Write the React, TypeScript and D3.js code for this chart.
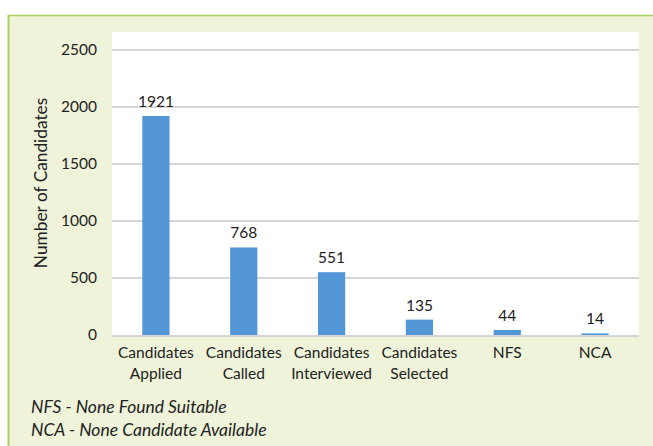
import React from 'react'
import * as d3 from 'd3'

const categories = [
  ['Candidates', 'Applied'],
  ['Candidates', 'Called'],
  ['Candidates', 'Interviewed'],
  ['Candidates', 'Selected'],
  ['NFS'],
  ['NCA'],
]
const values = [1921, 768, 551, 135, 44, 14]
const yTicks = [0, 500, 1000, 1500, 2000, 2500]
const notes = ['NFS - None Found Suitable', 'NCA - None Candidate Available']

const W = 653, H = 446
const plot = {left: 112, right: 639, top: 32, bottom: 336}
const font = 'Lato, "Open Sans", sans-serif'

export default function App() {
  const keys = categories.map((c, i) => String(i))
  const x = d3.scaleBand().domain(keys).range([plot.left, plot.right]).paddingInner(0.69).paddingOuter(0.345)
  const y = d3.scaleLinear().domain([0, 2500]).range([plot.bottom - 1, 50])

  return (
    <svg width={W} height={H} style={{position: 'absolute', left: 0, top: 0}}>
      <rect x={0} y={0} width={W} height={H} fill="#fff" />
      <rect x={8} y={15} width={W} height={H} fill="#eef3da" />
      <line x1={8} x2={W} y1={15.5} y2={15.5} stroke="#a9cf5a" strokeWidth={1.5} />
      <line x1={8.5} x2={8.5} y1={15} y2={H} stroke="#a9cf5a" strokeWidth={2} />
      <rect x={plot.left} y={plot.top} width={plot.right - plot.left} height={plot.bottom - plot.top} fill="#fff" />
      {yTicks.map(t => (
        <g key={t}>
          {t > 0 && <line x1={plot.left} x2={plot.right} y1={y(t)} y2={y(t)} stroke="#c8c8c8" strokeWidth={1.5} />}
          <text x={97} y={y(t)} dy="0.35em" textAnchor="end" fontFamily={font} fontSize={15.5} fill="#222">{t}</text>
        </g>
      ))}
      {values.map((v, i) => (
        <g key={i}>
          <rect x={x(String(i))} y={y(v)} width={x.bandwidth()} height={y(0) - y(v)} fill="#5296d5" />
          <text x={x(String(i))! + x.bandwidth() / 2} y={y(v) - 9} textAnchor="middle" fontFamily={font} fontSize={15.5} fill="#222">{v}</text>
        </g>
      ))}
      <line x1={plot.left} x2={plot.right} y1={plot.bottom} y2={plot.bottom} stroke="#c8c8c8" strokeWidth={1.5} />
      {categories.map((c, i) => (
        <text key={i} x={x(String(i))! + x.bandwidth() / 2} textAnchor="middle" fontFamily={font} fontSize={15.5} fill="#222">
          {c.map((line, j) => (
            <tspan key={j} x={x(String(i))! + x.bandwidth() / 2} y={358 + j * 21}>{line}</tspan>
          ))}
        </text>
      ))}
      <text transform="translate(47,183) rotate(-90)" textAnchor="middle" fontFamily={font} fontSize={17.3} fill="#222">Number of Candidates</text>
      {notes.map((n, i) => (
        <text key={i} x={31} y={413 + i * 23} fontFamily={font} fontSize={17.5} fontStyle="italic" fill="#222">{n}</text>
      ))}
    </svg>
  )
}
